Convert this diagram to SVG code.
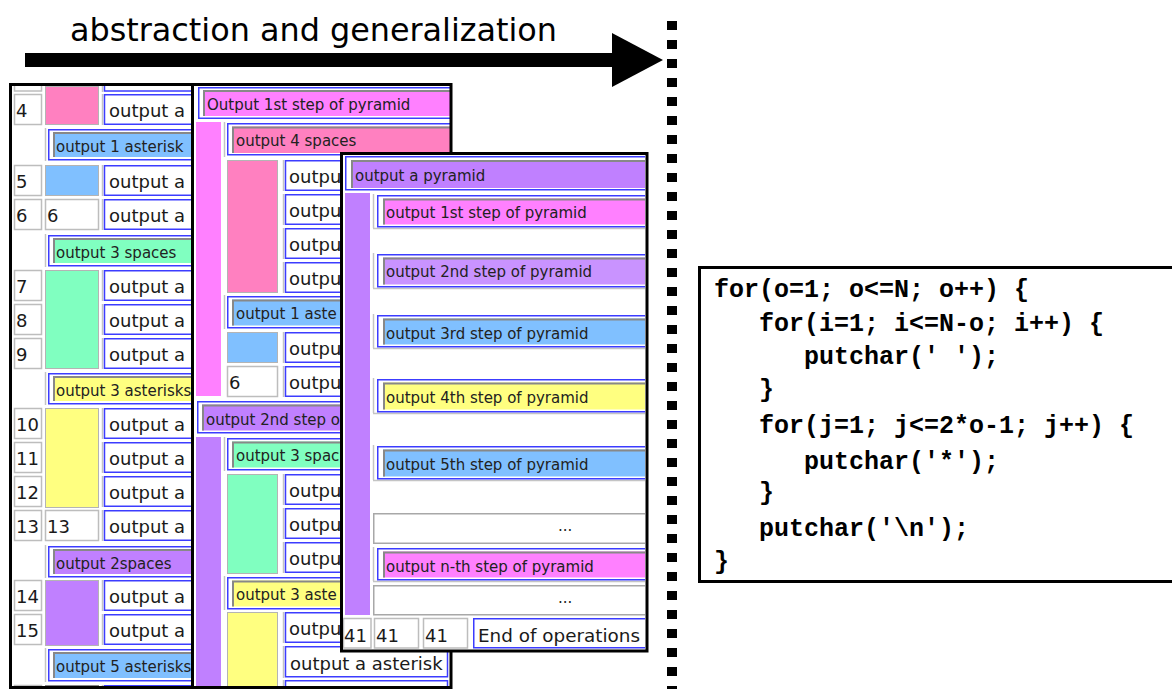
<svg xmlns="http://www.w3.org/2000/svg" width="1172" height="689" viewBox="0 0 1172 689">
<style>
.num{fill:#fff;stroke:#bdbdbd;stroke-width:1.5}
.box{fill:#fff;stroke:#3c3cff;stroke-width:1.5}
.lg{stroke:#c4c4c4;stroke-width:1.5;fill:none}
.ins{stroke:#888;stroke-width:2;fill:none}
.sw{stroke:#b4b4b4;stroke-width:1}
.t18{font-family:"DejaVu Sans",sans-serif;font-size:18px;fill:#1a1a1a}
.t15{font-family:"DejaVu Sans",sans-serif;font-size:15px;fill:#222}
.code{font-family:"Liberation Mono","Courier New",monospace;font-weight:bold;font-size:25px;fill:#000}
.pk{fill:#ff80c0}.mg{fill:#ff80ff}.lb{fill:#80c0ff}.gr{fill:#80ffc0}.ye{fill:#ffff80}.pu{fill:#c080ff}
</style>
<defs>
<clipPath id="ca"><rect x="12" y="86" width="180" height="603"/></clipPath>
<clipPath id="cb"><rect x="194" y="86" width="256" height="603"/></clipPath>
<clipPath id="cc"><rect x="343" y="155" width="302" height="495"/></clipPath>
</defs>
<rect width="1172" height="689" fill="#fff"/>

<g id="title">
<text x="70" y="41" font-family="DejaVu Sans,sans-serif" font-size="32" fill="#000" textLength="487" lengthAdjust="spacingAndGlyphs">abstraction and generalization</text>
<rect x="25" y="53" width="592" height="14" fill="#000"/>
<polygon points="612,33 663,60 612,87" fill="#000"/>
</g>

<g id="divider">
<line x1="672" y1="21" x2="672" y2="689" stroke="#000" stroke-width="10" stroke-dasharray="9 10"/>
</g>

<g id="panel-a">
<rect x="10.5" y="84.5" width="200" height="603" fill="#fff"/>
<g clip-path="url(#ca)">
<rect class="num" x="14.5" y="78" width="27" height="13"/>
<line class="lg" x1="102.5" y1="80" x2="102.5" y2="92"/>
<rect class="box" x="104.5" y="78" width="100" height="13"/>
<rect class="sw pk" x="45.5" y="86.5" width="53" height="38"/>
<rect class="num" x="14.5" y="94.5" width="27" height="30"/><text class="t18" x="16" y="117">4</text>
<line class="lg" x1="102.5" y1="94" x2="102.5" y2="125"/><rect class="box" x="104.5" y="94.75" width="100" height="29.5"/><text class="t18" x="109" y="117">output a</text>
<line class="lg" x1="45.5" y1="128" x2="45.5" y2="161"/><rect class="box" x="48.75" y="129.75" width="160" height="30"/><rect class="lb" x="53" y="132" width="160" height="25"/><path class="ins" d="M54 157V133H213"/><text class="t15" x="56" y="152">output 1 asterisk</text>
<rect class="num" x="14.5" y="165.5" width="27" height="30"/><text class="t18" x="16" y="188">5</text>
<rect class="sw lb" x="45.5" y="165.5" width="53" height="30"/>
<line class="lg" x1="102.5" y1="165" x2="102.5" y2="196"/><rect class="box" x="104.5" y="165.75" width="100" height="29.5"/><text class="t18" x="109" y="188">output a</text>
<rect class="num" x="14.5" y="199.5" width="27" height="30"/><text class="t18" x="16" y="222">6</text>
<rect class="num" x="45.5" y="199.5" width="53" height="30"/><text class="t18" x="47" y="222">6</text>
<line class="lg" x1="102.5" y1="199" x2="102.5" y2="230"/><rect class="box" x="104.5" y="199.75" width="100" height="29.5"/><text class="t18" x="109" y="222">output a</text>
<line class="lg" x1="45.5" y1="234" x2="45.5" y2="267"/><rect class="box" x="48.75" y="235.75" width="160" height="30"/><rect class="gr" x="53" y="238" width="160" height="25"/><path class="ins" d="M54 263V239H213"/><text class="t15" x="56" y="258">output 3 spaces</text>
<rect class="sw gr" x="45.5" y="270.5" width="53" height="98"/>
<rect class="num" x="14.5" y="270.5" width="27" height="30"/><text class="t18" x="16" y="293">7</text>
<line class="lg" x1="102.5" y1="270" x2="102.5" y2="301"/><rect class="box" x="104.5" y="270.75" width="100" height="29.5"/><text class="t18" x="109" y="293">output a</text>
<rect class="num" x="14.5" y="304.5" width="27" height="30"/><text class="t18" x="16" y="327">8</text>
<line class="lg" x1="102.5" y1="304" x2="102.5" y2="335"/><rect class="box" x="104.5" y="304.75" width="100" height="29.5"/><text class="t18" x="109" y="327">output a</text>
<rect class="num" x="14.5" y="338.5" width="27" height="30"/><text class="t18" x="16" y="361">9</text>
<line class="lg" x1="102.5" y1="338" x2="102.5" y2="369"/><rect class="box" x="104.5" y="338.75" width="100" height="29.5"/><text class="t18" x="109" y="361">output a</text>
<line class="lg" x1="45.5" y1="372" x2="45.5" y2="405"/><rect class="box" x="48.75" y="373.75" width="160" height="30"/><rect class="ye" x="53" y="376" width="160" height="25"/><path class="ins" d="M54 401V377H213"/><text class="t15" x="56" y="396">output 3 asterisks</text>
<rect class="sw ye" x="45.5" y="408.5" width="53" height="99"/>
<rect class="num" x="14.5" y="408.5" width="27" height="30"/><text class="t18" x="16" y="431">10</text>
<line class="lg" x1="102.5" y1="408" x2="102.5" y2="439"/><rect class="box" x="104.5" y="408.75" width="100" height="29.5"/><text class="t18" x="109" y="431">output a</text>
<rect class="num" x="14.5" y="442.5" width="27" height="30"/><text class="t18" x="16" y="465">11</text>
<line class="lg" x1="102.5" y1="442" x2="102.5" y2="473"/><rect class="box" x="104.5" y="442.75" width="100" height="29.5"/><text class="t18" x="109" y="465">output a</text>
<rect class="num" x="14.5" y="476.5" width="27" height="30"/><text class="t18" x="16" y="499">12</text>
<line class="lg" x1="102.5" y1="476" x2="102.5" y2="507"/><rect class="box" x="104.5" y="476.75" width="100" height="29.5"/><text class="t18" x="109" y="499">output a</text>
<rect class="num" x="14.5" y="510.5" width="27" height="30"/><text class="t18" x="16" y="533">13</text>
<rect class="num" x="45.5" y="510.5" width="53" height="30"/><text class="t18" x="47" y="533">13</text>
<line class="lg" x1="102.5" y1="510" x2="102.5" y2="541"/><rect class="box" x="104.5" y="510.75" width="100" height="29.5"/><text class="t18" x="109" y="533">output a</text>
<line class="lg" x1="45.5" y1="545" x2="45.5" y2="578"/><rect class="box" x="48.75" y="546.75" width="160" height="30"/><rect class="pu" x="53" y="549" width="160" height="25"/><path class="ins" d="M54 574V550H213"/><text class="t15" x="56" y="569">output 2spaces</text>
<rect class="sw pu" x="45.5" y="580.5" width="53" height="65"/>
<rect class="num" x="14.5" y="580.5" width="27" height="30"/><text class="t18" x="16" y="603">14</text>
<line class="lg" x1="102.5" y1="580" x2="102.5" y2="611"/><rect class="box" x="104.5" y="580.75" width="100" height="29.5"/><text class="t18" x="109" y="603">output a</text>
<rect class="num" x="14.5" y="614.5" width="27" height="30"/><text class="t18" x="16" y="637">15</text>
<line class="lg" x1="102.5" y1="614" x2="102.5" y2="645"/><rect class="box" x="104.5" y="614.75" width="100" height="29.5"/><text class="t18" x="109" y="637">output a</text>
<line class="lg" x1="45.5" y1="648" x2="45.5" y2="682"/><rect class="box" x="48.75" y="649.75" width="160" height="31"/><rect class="lb" x="53" y="652" width="160" height="26"/><path class="ins" d="M54 678V653H213"/><text class="t15" x="56" y="672">output 5 asterisks</text>
<rect class="num" x="14.5" y="685.5" width="27" height="10"/>
<rect x="45.5" y="685.5" width="53" height="10" fill="#80a8d0" stroke="#888"/>
<line class="lg" x1="102.5" y1="685" x2="102.5" y2="689"/><rect class="box" x="104.5" y="685.75" width="100" height="10"/>
</g>
<rect x="10.5" y="84.5" width="200" height="603" fill="none" stroke="#000" stroke-width="3"/>
</g>

<g id="panel-b">
<rect x="192.5" y="84.5" width="258.5" height="603" fill="#fff"/>
<g clip-path="url(#cb)">
<rect class="box" x="198.75" y="87.75" width="260" height="30.5"/><rect class="mg" x="203" y="90" width="260" height="26"/><path class="ins" d="M204 116V91H463"/><text class="t15" x="207" y="110">Output 1st step of pyramid</text>
<rect class="mg" x="196" y="122" width="25" height="274"/>
<line class="lg" x1="224.5" y1="122" x2="224.5" y2="157"/><rect class="box" x="227.75" y="123.75" width="230" height="31"/><rect class="pk" x="232" y="126.5" width="230" height="26.5"/><path class="ins" d="M233 153V127.5H462"/><text class="t15" x="236" y="146">output 4 spaces</text>
<rect class="sw pk" x="227.5" y="160.5" width="50" height="132"/>
<line class="lg" x1="283.5" y1="160" x2="283.5" y2="191"/><rect class="box" x="285.5" y="160.75" width="200" height="29.5"/><text class="t18" x="289" y="183">outpu</text>
<line class="lg" x1="283.5" y1="194" x2="283.5" y2="225"/><rect class="box" x="285.5" y="194.75" width="200" height="29.5"/><text class="t18" x="289" y="217">outpu</text>
<line class="lg" x1="283.5" y1="228" x2="283.5" y2="259"/><rect class="box" x="285.5" y="228.75" width="200" height="29.5"/><text class="t18" x="289" y="251">outpu</text>
<line class="lg" x1="283.5" y1="262" x2="283.5" y2="293"/><rect class="box" x="285.5" y="262.75" width="200" height="29.5"/><text class="t18" x="289" y="285">outpu</text>
<line class="lg" x1="224.5" y1="295" x2="224.5" y2="329"/><rect class="box" x="227.75" y="296.75" width="230" height="31"/><rect class="lb" x="232" y="299.5" width="230" height="26"/><path class="ins" d="M233 325.5V300.5H462"/><text class="t15" x="236" y="319">output 1 aste</text>
<rect class="sw lb" x="227.5" y="332.5" width="50" height="30"/>
<line class="lg" x1="283.5" y1="332" x2="283.5" y2="363"/><rect class="box" x="285.5" y="332.75" width="200" height="29.5"/><text class="t18" x="289" y="355">outpu</text>
<rect class="num" x="227.5" y="366.5" width="50" height="30"/><text class="t18" x="229" y="389">6</text>
<line class="lg" x1="283.5" y1="366" x2="283.5" y2="397"/><rect class="box" x="285.5" y="366.75" width="200" height="29.5"/><text class="t18" x="289" y="389">outpu</text>
<rect class="box" x="197.75" y="401.75" width="260" height="31"/><rect class="pu" x="202" y="404.5" width="260" height="26"/><path class="ins" d="M203 430.5V405.5H462"/><text class="t15" x="206" y="425">output 2nd step o</text>
<rect class="pu" x="196" y="437" width="25" height="260"/>
<line class="lg" x1="224.5" y1="437" x2="224.5" y2="471"/><rect class="box" x="227.75" y="438.75" width="230" height="31"/><rect class="gr" x="232" y="441.5" width="230" height="26"/><path class="ins" d="M233 467.5V442.5H462"/><text class="t15" x="236" y="461">output 3 spac</text>
<rect class="sw gr" x="227.5" y="474.5" width="50" height="99"/>
<line class="lg" x1="283.5" y1="474" x2="283.5" y2="505"/><rect class="box" x="285.5" y="474.75" width="200" height="29.5"/><text class="t18" x="289" y="497">outpu</text>
<line class="lg" x1="283.5" y1="508" x2="283.5" y2="539"/><rect class="box" x="285.5" y="508.75" width="200" height="29.5"/><text class="t18" x="289" y="531">outpu</text>
<line class="lg" x1="283.5" y1="542" x2="283.5" y2="573"/><rect class="box" x="285.5" y="542.75" width="200" height="29.5"/><text class="t18" x="289" y="565">outpu</text>
<line class="lg" x1="224.5" y1="576" x2="224.5" y2="610"/><rect class="box" x="227.75" y="577.75" width="230" height="31"/><rect class="ye" x="232" y="580.5" width="230" height="26"/><path class="ins" d="M233 606.5V581.5H462"/><text class="t15" x="236" y="600">output 3 aste</text>
<rect class="sw ye" x="227.5" y="612.5" width="50" height="80"/>
<line class="lg" x1="283.5" y1="612" x2="283.5" y2="643"/><rect class="box" x="285.5" y="612.75" width="162" height="29.5"/><text class="t18" x="289" y="635">outpu</text>
<line class="lg" x1="283.5" y1="646" x2="283.5" y2="678"/><rect class="box" x="285.5" y="646.75" width="162" height="30"/><text class="t18" x="290" y="670">output a asterisk</text>
<line class="lg" x1="283.5" y1="680" x2="283.5" y2="689"/><rect class="box" x="285.5" y="680.75" width="162" height="20"/>
</g>
<rect x="192.5" y="84.5" width="258.5" height="603" fill="none" stroke="#000" stroke-width="3"/>
</g>

<g id="panel-c">
<rect x="341.5" y="153.5" width="305.5" height="497.5" fill="#fff"/>
<g clip-path="url(#cc)">
<rect class="box" x="345.75" y="156.75" width="320" height="33"/><rect class="pu" x="351" y="160" width="320" height="28"/><path class="ins" d="M352 188V161H671"/><text class="t15" x="355" y="181">output a pyramid</text>
<rect class="pu" x="345" y="193" width="25" height="422"/>
<line class="lg" x1="373.5" y1="194" x2="373.5" y2="228"/><line class="lg" x1="373" y1="228.5" x2="650" y2="228.5"/><rect class="box" x="377.75" y="195.75" width="300" height="31"/><rect class="mg" x="383" y="198.5" width="300" height="26"/><path class="ins" d="M384 224.5V199.5H683"/><text class="t15" x="386" y="218">output 1st step of pyramid</text>
<line class="lg" x1="373.5" y1="253" x2="373.5" y2="288"/><line class="lg" x1="373" y1="288.5" x2="650" y2="288.5"/><rect class="box" x="377.75" y="254.75" width="300" height="32"/><rect class="pu" x="383" y="257.5" width="300" height="27" fill-opacity="0.85"/><path class="ins" d="M384 284.5V258.5H683"/><text class="t15" x="386" y="277">output 2nd step of pyramid</text>
<line class="lg" x1="373.5" y1="314" x2="373.5" y2="348"/><line class="lg" x1="373" y1="348.5" x2="650" y2="348.5"/><rect class="box" x="377.75" y="315.75" width="300" height="31"/><rect class="lb" x="383" y="318.5" width="300" height="26"/><path class="ins" d="M384 344.5V319.5H683"/><text class="t15" x="386" y="339">output 3rd step of pyramid</text>
<line class="lg" x1="373.5" y1="378" x2="373.5" y2="413"/><line class="lg" x1="373" y1="413.5" x2="650" y2="413.5"/><rect class="box" x="377.75" y="379.75" width="300" height="32"/><rect class="ye" x="383" y="382.5" width="300" height="27"/><path class="ins" d="M384 409.5V383.5H683"/><text class="t15" x="386" y="403">output 4th step of pyramid</text>
<line class="lg" x1="373.5" y1="445" x2="373.5" y2="480"/><line class="lg" x1="373" y1="480.5" x2="650" y2="480.5"/><rect class="box" x="377.75" y="446.75" width="300" height="32"/><rect class="lb" x="383" y="449.5" width="300" height="27"/><path class="ins" d="M384 476.5V450.5H683"/><text class="t15" x="386" y="470">output 5th step of pyramid</text>
<rect x="373.75" y="513.75" width="300" height="29.5" fill="#fff" stroke="#a8a8a8" stroke-width="1.5"/><text class="t15" x="558" y="531">...</text>
<line class="lg" x1="373.5" y1="547" x2="373.5" y2="581"/><line class="lg" x1="373" y1="581.5" x2="650" y2="581.5"/><rect class="box" x="377.75" y="548.75" width="300" height="31"/><rect class="mg" x="383" y="551.5" width="300" height="26"/><path class="ins" d="M384 577.5V552.5H683"/><text class="t15" x="386" y="572">output n-th step of pyramid</text>
<rect x="373.75" y="585.75" width="300" height="29" fill="#fff" stroke="#a8a8a8" stroke-width="1.5"/><text class="t15" x="558" y="603">...</text>
<rect class="num" x="343.5" y="618.5" width="27.5" height="29.5"/><text class="t18" x="344" y="642">41</text>
<rect class="num" x="374.5" y="618.5" width="44" height="29.5"/><text class="t18" x="376" y="642">41</text>
<rect class="num" x="423.5" y="618.5" width="44" height="29.5"/><text class="t18" x="425" y="642">41</text>
<rect class="box" x="473.75" y="618.75" width="180" height="29"/><text class="t18" x="478" y="642" textLength="162" lengthAdjust="spacingAndGlyphs">End of operations</text>
</g>
<rect x="341.5" y="153.5" width="305.5" height="497.5" fill="none" stroke="#000" stroke-width="3"/>
</g>

<g id="code">
<rect x="699.5" y="267.5" width="480" height="314" fill="#fff" stroke="#000" stroke-width="3"/>
<text class="code" x="714" y="297">for(o=1; o&lt;=N; o++) {</text>
<text class="code" x="759" y="331">for(i=1; i&lt;=N-o; i++) {</text>
<text class="code" x="804" y="364">putchar(' ');</text>
<text class="code" x="759" y="397">}</text>
<text class="code" x="759" y="433">for(j=1; j&lt;=2*o-1; j++) {</text>
<text class="code" x="804" y="469">putchar('*');</text>
<text class="code" x="759" y="500">}</text>
<text class="code" x="759" y="536">putchar('\n');</text>
<text class="code" x="714" y="569">}</text>
</g>
</svg>
